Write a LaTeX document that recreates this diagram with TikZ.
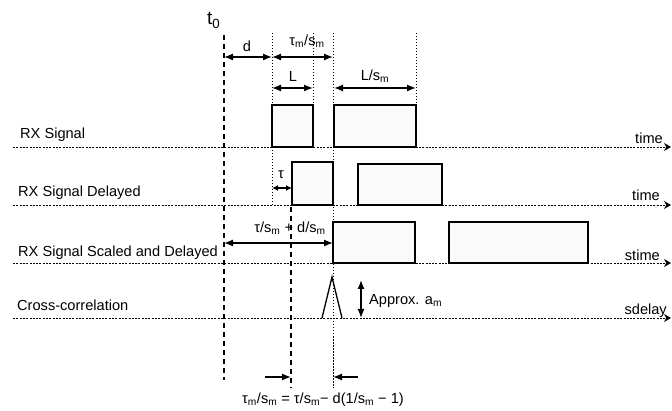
\documentclass[tikz,border=0pt]{standalone}
\usepackage{fontspec}
\setmainfont{Liberation Sans}
\usetikzlibrary{arrows.meta}
\newcommand{\sbm}{\textsubscript{m}}
\begin{document}
\begin{tikzpicture}[x=1pt,y=-1pt,
  lbl/.style={inner sep=0pt, font=\fontsize{14.6}{16}\selectfont},
  axisline/.style={line width=0.8pt, dash pattern=on 2pt off 1.3pt, -{Stealth[length=7pt,width=8pt]}},
  vdot/.style={line width=0.8pt, dash pattern=on 1.5pt off 1.5pt},
  vdash/.style={line width=1.6pt, dash pattern=on 5pt off 4pt},
  sig/.style={draw, line width=1.4pt, fill=gray!3},
  dimarr/.style={line width=1.3pt, {Latex[length=9pt,width=7pt]}-{Latex[length=9pt,width=7pt]}},
  smalldim/.style={line width=1.3pt, {Latex[length=6pt,width=6pt]}-{Latex[length=6pt,width=6pt]}},
  onearr/.style={line width=1.3pt, -{Latex[length=9pt,width=7pt]}},
]
\useasboundingbox (0,0) rectangle (672,411);

% axes
\coordinate (a1s) at (13,147); \coordinate (a1e) at (671,147);
\coordinate (a2s) at (13,205); \coordinate (a2e) at (671,205);
\coordinate (a3s) at (13,263); \coordinate (a3e) at (671,263);
\coordinate (a4s) at (13,318); \coordinate (a4e) at (671,318);
\draw[axisline] (a1s) -- (a1e);
\draw[axisline] (a2s) -- (a2e);
\draw[axisline] (a3s) -- (a3e);
\draw[axisline] (a4s) -- (a4e);

% vertical lines
\coordinate (v0t) at (224,35);  \coordinate (v0b) at (224,380);
\coordinate (v1t) at (291,207); \coordinate (v1b) at (291,388);
\coordinate (w1t) at (272,33);  \coordinate (w1b) at (272,205);
\coordinate (w2t) at (313,33);  \coordinate (w2b) at (313,105);
\coordinate (w3t) at (333,33);  \coordinate (w3b) at (333,388);
\coordinate (w4t) at (416,33);  \coordinate (w4b) at (416,105);
\draw[vdash] (v0t) -- (v0b);
\draw[vdash] (v1t) -- (v1b);
\draw[vdot] (w1t) -- (w1b);
\draw[vdot] (w2t) -- (w2b);
\draw[vdot] (w3t) -- (w3b);
\draw[vdot] (w4t) -- (w4b);

% signal boxes
\draw[sig] (272,105) rectangle (313,147) coordinate (r1a);
\draw[sig] (334,105) rectangle (416,147) coordinate (r1b);
\draw[sig] (292,162) rectangle (333,205) coordinate (r2a);
\draw[sig] (358,164) rectangle (442,205) coordinate (r2b);
\draw[sig] (333,222) rectangle (415,263) coordinate (r3a);
\draw[sig] (449,222) rectangle (588,263) coordinate (r3b);

% peak
\coordinate (p1) at (322,318); \coordinate (p2) at (332,277); \coordinate (p3) at (342,318);
\draw[line width=1.3pt] (p1) -- (p2) -- (p3);

% row labels
\node[lbl, anchor=base west] (l1) at (20,138.5) {RX Signal};
\node[lbl, anchor=base west] (l2) at (18,197) {RX Signal Delayed};
\node[lbl, anchor=base west] (l3) at (18,257) {RX Signal Scaled and Delayed};
\node[lbl, anchor=base west] (l4) at (17,311) {Cross-correlation};

% axis labels
\node[lbl, anchor=base east] (t1) at (663,144) {time};
\node[lbl, anchor=base east] (t2) at (660,201) {time};
\node[lbl, anchor=base east] (t3) at (660,261) {stime};
\node[lbl, anchor=base east] (t4) at (667,315) {sdelay};

% t0
\node[inner sep=0pt, font=\fontsize{19}{21}\selectfont, anchor=base west] (t0) at (207,25) {t\textsubscript{0}};

% dimension arrows
\coordinate (d1) at (224,57); \coordinate (d2) at (272,57); \coordinate (d3) at (333,57);
\draw[dimarr] (d1) -- (d2);
\draw[dimarr] (d2) -- (d3);
\node[lbl] (dl) at (247,46) {d};
\node[lbl] (tml) at (307,41) {τ\sbm/s\sbm};

\coordinate (L1) at (272,88); \coordinate (L2) at (313,88);
\coordinate (L3) at (334,88); \coordinate (L4) at (416,88);
\draw[dimarr] (L1) -- (L2);
\draw[dimarr] (L3) -- (L4);
\node[lbl] (Ll) at (293,76) {L};
\node[lbl] (Lsl) at (375,76) {L/s\sbm};

\coordinate (ta) at (272,188); \coordinate (tb) at (292,188);
\draw[smalldim] (ta) -- (tb);
\node[lbl] (taul) at (281,175) {τ};

\coordinate (sd1) at (224,243); \coordinate (sd2) at (333,243);
\draw[dimarr] (sd1) -- (sd2);
\node[lbl] (sdl) at (290,228) {τ/s\sbm{} + d/s\sbm};

\coordinate (ap1) at (361,280); \coordinate (ap2) at (361,318);
\draw[dimarr] (ap1) -- (ap2);
\node[lbl, anchor=west] (apl) at (369,301) {Approx. a\sbm};

\coordinate (b1) at (265,377); \coordinate (b2) at (291,377);
\coordinate (b3) at (358,377); \coordinate (b4) at (333,377);
\draw[onearr] (b1) -- (b2);
\draw[onearr] (b3) -- (b4);
\node[lbl] (form) at (323,400) {τ\sbm/s\sbm{} = τ/s\sbm− d(1/s\sbm{} − 1)};

\end{tikzpicture}
\end{document}
